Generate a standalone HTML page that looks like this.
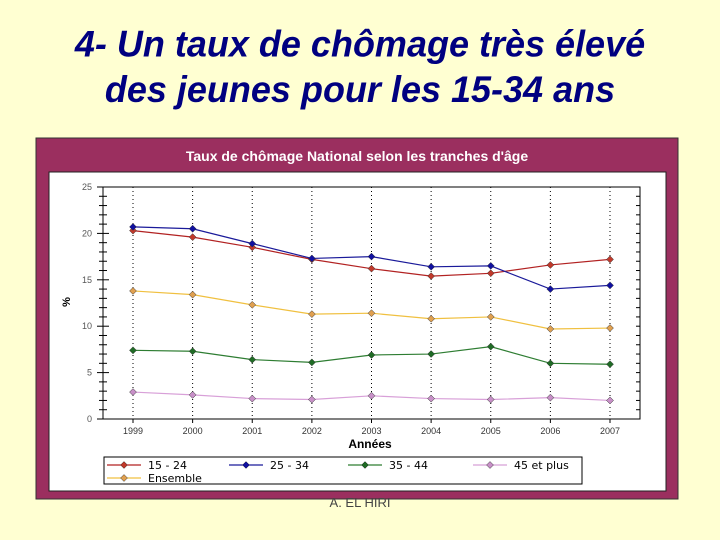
<!DOCTYPE html>
<html><head><meta charset="utf-8"><style>
body{margin:0;width:720px;height:540px;background:#ffffd2;overflow:hidden;font-family:"Liberation Sans",sans-serif}
#title{position:absolute;left:0;top:23px;width:720px;text-align:center;color:#000080;font-weight:bold;font-style:italic;font-size:36px;line-height:44px;transform:scaleY(1.03)}
#author{position:absolute;left:0;top:495px;width:720px;text-align:center;color:#444;font-size:13px}
svg{position:absolute;left:0;top:0}
</style></head><body>
<div id="title">4- Un taux de chômage très élevé<br>des jeunes pour les 15-34 ans</div>
<svg id="chart" width="720" height="540">
<rect x="36" y="138" width="642" height="361" fill="#9b2f5f" stroke="#333"/>
<rect x="49" y="172" width="617" height="319" fill="#fff" stroke="#222"/>
<text x="357" y="161" fill="#fff" font-size="14" font-weight="bold" text-anchor="middle">Taux de chômage National selon les tranches d'âge</text>
<g id="grid"></g><g id="axes"></g><g id="series"></g><g id="legend"></g>
</svg>
<div id="author">A. EL HIRI</div>
<script>
const years=["1999","2000","2001","2002","2003","2004","2005","2006","2007"];
const s1524=[20.3,19.6,18.5,17.2,16.2,15.4,15.7,16.6,17.2];
const s2534=[20.7,20.5,18.9,17.3,17.5,16.4,16.5,14.0,14.4];
const s3544=[7.4,7.3,6.4,6.1,6.9,7.0,7.8,6.0,5.9];
const s45=[2.9,2.6,2.2,2.1,2.5,2.2,2.1,2.3,2.0];
const sEns=[13.8,13.4,12.3,11.3,11.4,10.8,11.0,9.7,9.8];
const yTicks=[0,5,10,15,20,25];
const yTickLabels=["0","5","10","15","20","25"];
const NS="http://www.w3.org/2000/svg";
const X0=103,X1=640,Y0=419,Y1=187;
const xs=i=>133+i*(610-133)/(years.length-1);
const ys=v=>Y0-(v/25)*(Y0-Y1);
function mk(t,a,p){const e=document.createElementNS(NS,t);for(const k in a)e.setAttribute(k,a[k]);p.appendChild(e);return e;}
const grid=document.getElementById('grid'),axes=document.getElementById('axes'),ser=document.getElementById('series'),leg=document.getElementById('legend');
years.forEach((y,i)=>{
 const l=mk('line',{x1:xs(i),x2:xs(i),y1:Y1,y2:Y0,stroke:'#000','stroke-dasharray':'1,3'},grid);
 
 
 const t=mk('text',{x:xs(i),y:Y0+15,'font-size':9,fill:'#333','text-anchor':'middle'},axes);t.textContent=y;
 
 
 mk('line',{x1:xs(i),x2:xs(i),y1:Y0,y2:Y0+4,stroke:'#000'},axes);
});
mk('rect',{x:X0,y:Y1,width:X1-X0,height:Y0-Y1,fill:'none',stroke:'#000'},axes);
for(let v=0;v<=25;v++){const mj=v%5==0;mk('line',{x1:X0-(mj?6:4),x2:X0+(mj?6:4),y1:ys(v),y2:ys(v),stroke:'#000'},axes);mk('line',{x1:X1-4,x2:X1,y1:ys(v),y2:ys(v),stroke:'#000'},axes);}
yTicks.forEach((v,i)=>{const t=mk('text',{x:92,y:ys(v)+3,'font-size':9,fill:'#555','text-anchor':'end'},axes);t.textContent=yTickLabels[i];
 
 });
let yt=mk('text',{x:0,y:0,'font-size':11,'font-weight':'bold',transform:'translate(70,302) rotate(-90)','text-anchor':'middle'},axes);yt.textContent='%';


let xt=mk('text',{x:370,y:448,'font-size':12,'font-weight':'bold','text-anchor':'middle'},axes);xt.textContent='Années';


const series=[["15 - 24",s1524,'#b22222','#c0392b'],["25 - 34",s2534,'#1a1a9a','#1010a0'],["35 - 44",s3544,'#2e7d32','#1f6b25'],["45 et plus",s45,'#d8a0d8','#c890c8'],["Ensemble",sEns,'#f0c040','#e0a050']];
function dia(x,y,c,p){return mk('path',{d:`M${x},${y-3.5}L${x+3.5},${y}L${x},${y+3.5}L${x-3.5},${y}Z`,fill:c,stroke:'#333','stroke-width':0.5},p);}
series.forEach(([n,d,lc,mc])=>{
 const g=mk('g',{},ser);
 
 
 mk('polyline',{points:d.map((v,i)=>xs(i)+','+ys(v)).join(' '),fill:'none',stroke:lc,'stroke-width':1.2},g);
 d.forEach((v,i)=>{const p=dia(xs(i),ys(v),mc,g);
  
  });
});
mk('rect',{x:104,y:457,width:478,height:27,fill:'#fff',stroke:'#000'},leg);
const lp=[[107,465],[229,465],[348,465],[473,465],[107,478]];
series.forEach(([n,d,lc,mc],i)=>{
 const [x,y]=lp[i];
 const g=mk('g',{},leg);
 
 
 mk('line',{x1:x,x2:x+34,y1:y,y2:y,stroke:lc,'stroke-width':1.2},g);
 dia(x+17,y,mc,g);
 const t=mk('text',{x:x+41,y:y+4,'font-size':11,'font-family':'"DejaVu Sans",sans-serif'},g);t.textContent=n;
});
</script>
</body></html>
